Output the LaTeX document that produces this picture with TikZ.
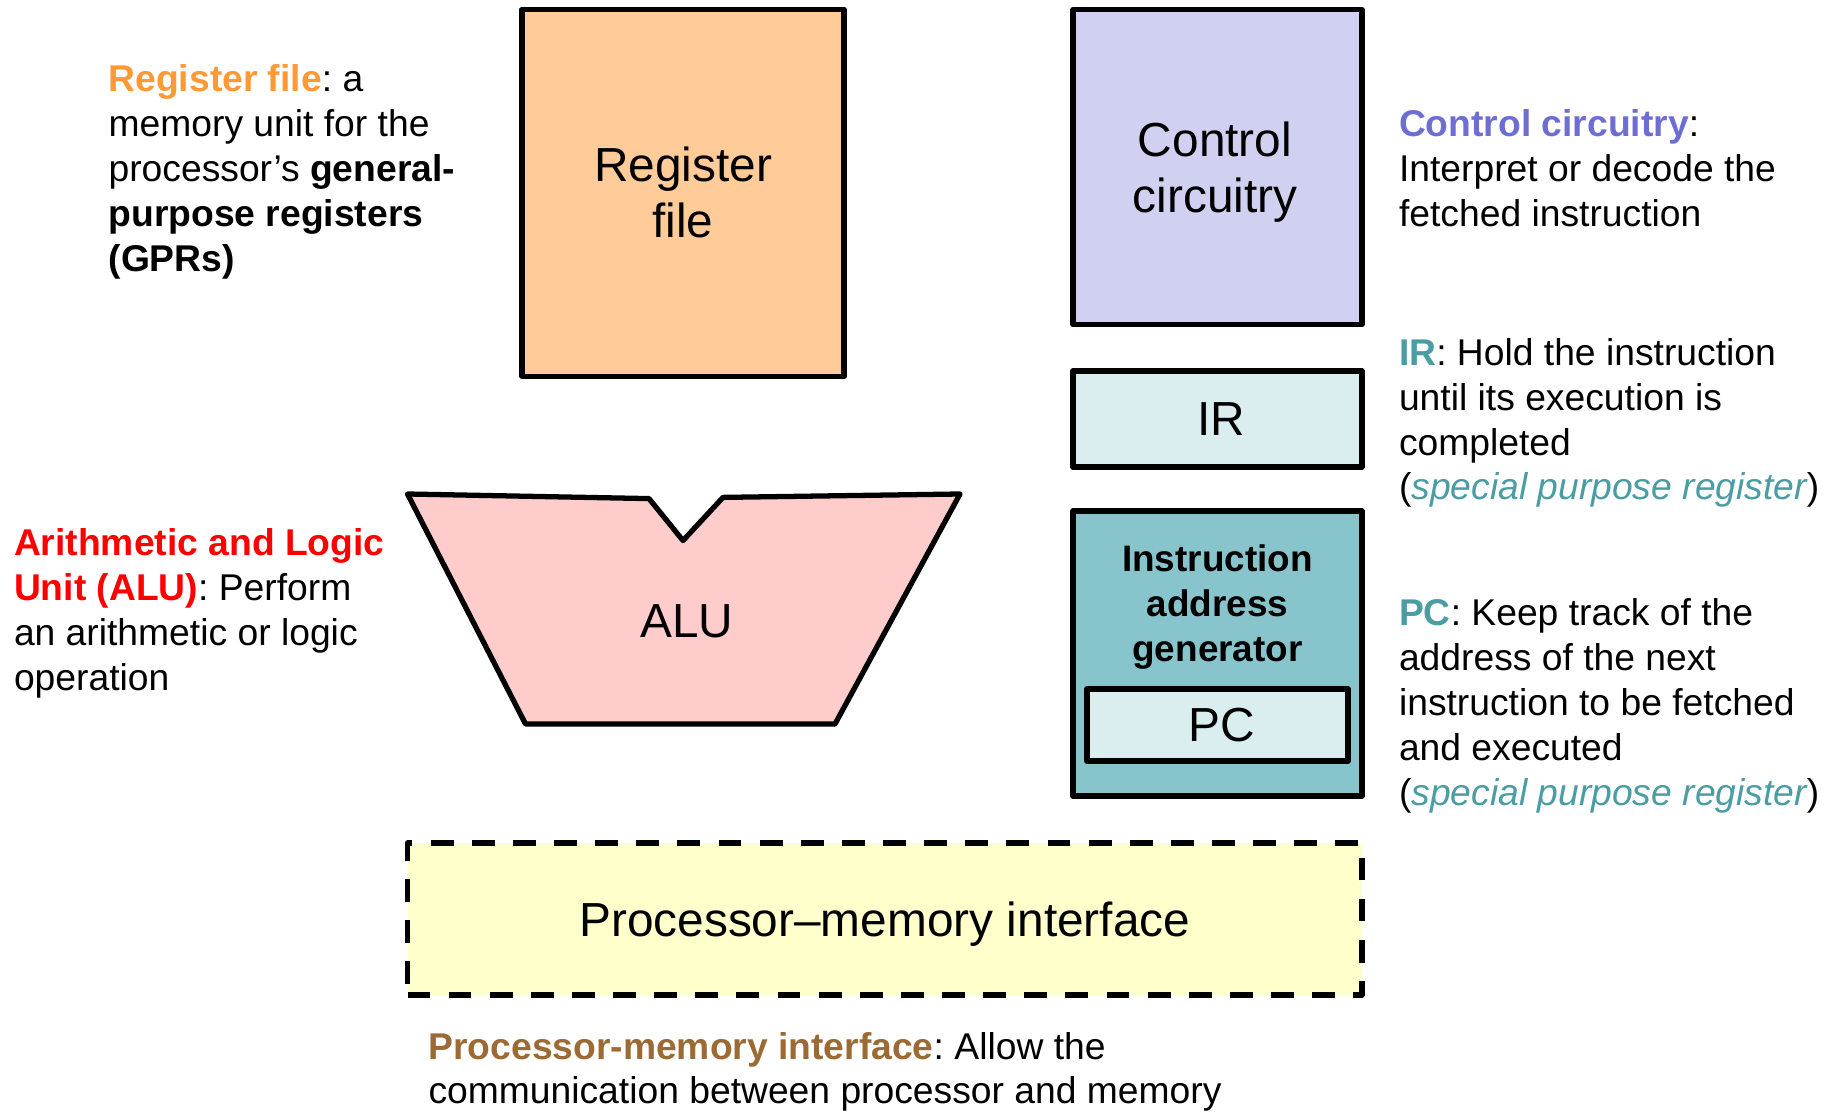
\documentclass[tikz,border=0pt]{standalone}
\usepackage{fontspec}
\setmainfont{Liberation Sans}
\usepackage{tikz}
\frenchspacing

\definecolor{regfill}{HTML}{FFCC99}
\definecolor{regtext}{HTML}{FF9933}
\definecolor{ctrlfill}{HTML}{D0D0F0}
\definecolor{ctrltext}{HTML}{6E6ED2}
\definecolor{irfill}{HTML}{DAEEF0}
\definecolor{iagfill}{HTML}{88C4CC}
\definecolor{tealtext}{HTML}{4A9DA3}
\definecolor{alufill}{HTML}{FFCCCC}
\definecolor{pmifill}{HTML}{FFFFCC}
\definecolor{pmitext}{HTML}{9C6A34}

\begin{document}
\begin{tikzpicture}[every node/.style={inner sep=0pt, outer sep=0pt},
  box/.style={draw, line width=1.5pt, line join=round},
  bigtxt/.style={font=\fontsize{13.6}{16}\selectfont, align=center},
  note/.style={anchor=base west, align=left, font=\fontsize{10.6}{12.75}\selectfont}]
\useasboundingbox (0,0) rectangle (18.31,11.11);

% boxes
\node[box, fill=regfill, minimum width=3.22cm, minimum height=3.67cm, bigtxt] (regfile) at (6.83,9.183) {Register\\file};
\node[box, fill=ctrlfill, minimum width=2.89cm, minimum height=3.15cm] (ctrl) at (12.175,9.44) {};
\node[bigtxt] (ctrltxt) at (12.15,9.39) {Control\\circuitry};
\node[box, fill=irfill, minimum width=2.89cm, minimum height=0.96cm] (ir) at (12.175,6.92) {};
\node[bigtxt] (irtxt) at (12.21,6.92) {IR};
\node[box, fill=iagfill, minimum width=2.89cm, minimum height=2.85cm] (iag) at (12.175,4.575) {};
\node[align=center, font=\fontsize{10.5}{12.8}\selectfont\bfseries] (iagtext) at (12.175,5.043) {Instruction\\address\\generator};
\node[box, fill=irfill, minimum width=2.61cm, minimum height=0.72cm] (pc) at (12.175,3.86) {};
\node[bigtxt] (pctxt) at (12.215,3.86) {PC};

% ALU
\draw[box, fill=alufill] (4.075,6.17) -- (6.49,6.124) -- (6.83,5.704) -- (7.23,6.136)
  -- (9.60,6.17) -- (8.35,3.87) -- (5.255,3.87) -- cycle;
\node[bigtxt] (alu) at (6.866,4.90) {ALU};

\node[box, dash pattern=on 6.5pt off 5.2pt, fill=pmifill, minimum width=9.545cm, minimum height=1.52cm] (pmi) at (8.8475,1.92) {};
\node[bigtxt] (pmitxt) at (8.8475,1.873) {Processor--memory interface};

% notes
\node[note] (regnote) at (1.086,8.398) {\textbf{\color{regtext}Register file}: a\\memory unit for the\\processor’s \textbf{general-}\\\textbf{purpose registers}\\\textbf{(GPRs)}};
\node[note] (alunote) at (0.14,4.206) {\textbf{\color{red}Arithmetic and Logic}\\\textbf{\color{red}Unit (ALU)}: Perform\\an arithmetic or logic\\operation};
\node[note] (ctrlnote) at (13.99,8.848) {\textbf{\color{ctrltext}Control circuitry}:\\Interpret or decode the\\fetched instruction};
\node[note] (irnote) at (13.99,6.111) {\textbf{\color{tealtext}IR}: Hold the instruction\\until its execution is\\completed\\(\textit{\color{tealtext}special purpose register})};
\node[note] (pcnote) at (13.99,3.058) {\textbf{\color{tealtext}PC}: Keep track of the\\address of the next\\instruction to be fetched\\and executed\\(\textit{\color{tealtext}special purpose register})};
\node[note] (pminote) at (4.285,0.072) {\textbf{\color{pmitext}Processor-memory interface}: Allow the\\communication between processor and memory};
\end{tikzpicture}
\end{document}
